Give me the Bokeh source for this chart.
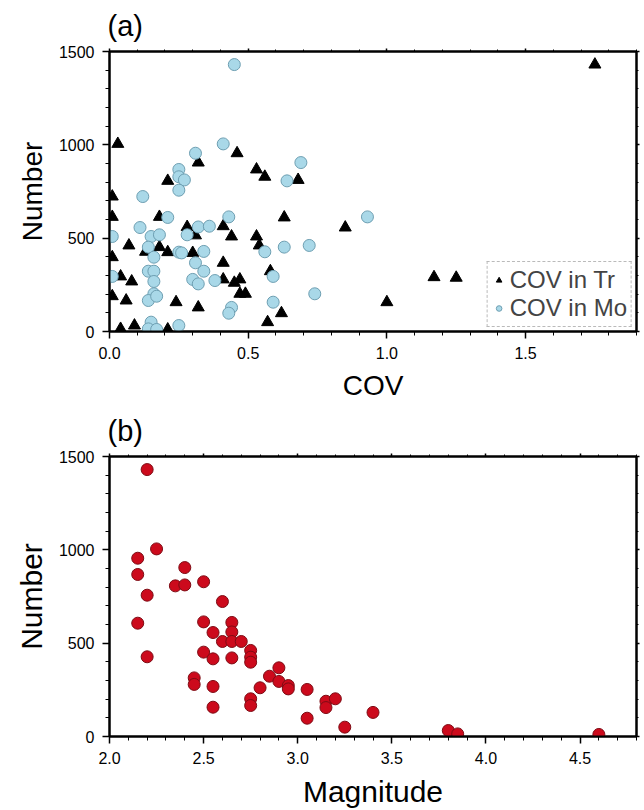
from bokeh.plotting import figure
from bokeh.models import (LinearAxis, SingleIntervalTicker, NumeralTickFormatter,
                          CustomJSTickFormatter, Range1d)
from bokeh.layouts import column
from bokeh.embed import file_html
from bokeh.resources import INLINE

# ---------------- data ----------------
# panel (a): COV in Tr (triangles)
tr_cov = [0.03, 0.46, 0.32, 0.53, 0.56, 0.21, 0.68, 0.01, 0.01, 0.18,
          0.28, 0.41, 0.44, 0.53, 0.54, 0.31, 0.07, 0.13, 0.18, 0.21,
          0.30, 0.01, 0.41, 0.04, 0.08, 0.41, 0.45, 0.47, 0.47, 0.49,
          0.01, 0.06, 0.24, 0.32, 0.57, 0.04, 0.09, 0.21, 0.63, 0.85,
          0.58, 0.62, 1.00, 1.17, 1.25, 1.75]
tr_num = [1005, 955, 905, 868, 829, 807, 812, 723, 614, 614,
          560, 564, 509, 509, 461, 515, 461, 427, 452, 425,
          421, 398, 368, 295, 268, 279, 261, 279, 202, 202,
          189, 166, 157, 129, 50, 14, 32, 11, 611, 557,
          323, 98, 157, 291, 288, 1430]

# panel (a): COV in Mo (circles)
mo_cov = [0.45, 0.41, 0.31, 0.25, 0.25, 0.27, 0.25, 0.69, 0.64, 0.12,
          0.21, 0.11, 0.32, 0.36, 0.43, 0.56, 0.01, 0.15, 0.18, 0.28,
          0.14, 0.16, 0.25, 0.26, 0.34, 0.31, 0.14, 0.16, 0.34, 0.01,
          0.16, 0.30, 0.32, 0.38, 0.16, 0.14, 0.17, 0.44, 0.43, 0.15,
          0.14, 0.17, 0.25, 0.93, 0.63, 0.72, 0.59, 0.74, 0.59]
mo_num = [1430, 1005, 955, 868, 829, 812, 757, 905, 807, 723,
          611, 557, 560, 564, 614, 427, 509, 509, 518, 518,
          452, 398, 425, 421, 429, 368, 323, 323, 323, 295,
          268, 279, 255, 273, 202, 166, 189, 129, 98, 50,
          14, 11, 32, 614, 452, 461, 295, 202, 157]

# panel (b): Magnitude vs Number
mag = [2.2, 2.25, 2.15, 2.15, 2.4, 2.35, 2.4, 2.5, 2.2, 2.6,
       2.15, 2.5, 2.55, 2.65, 2.65, 2.6, 2.65, 2.7, 2.75, 2.75,
       2.75, 2.2, 2.5, 2.55, 2.65, 2.45, 2.45, 2.55, 2.55, 2.75,
       2.75, 2.8, 2.85, 2.9, 2.9, 2.95, 2.95, 3.05, 3.05, 3.15,
       3.15, 3.2, 3.25, 3.4, 3.8, 3.85, 4.6]
mag_num = [1430, 1005, 955, 868, 905, 807, 812, 829, 757, 723,
           607, 614, 557, 611, 560, 509, 509, 509, 461, 425,
           398, 427, 452, 416, 421, 314, 279, 268, 157, 202,
           166, 261, 323, 368, 295, 273, 255, 252, 98, 189,
           155, 202, 50, 129, 32, 14, 11]

FONT = "Liberation Sans"


def make_fig(height, x0, x1, left, right, top, bottom, title, xlabel, label_size):
    p = figure(width=644, height=height,
               x_range=Range1d(x0, x1), y_range=Range1d(0, 1500),
               output_backend="svg", toolbar_location=None,
               x_axis_location=None, y_axis_location=None,
               min_border_left=left, min_border_right=right,
               min_border_top=top, min_border_bottom=bottom,
               title=title)
    p.xgrid.visible = False
    p.ygrid.visible = False
    p.outline_line_color = "black"
    p.outline_line_width = 2
    p.title.text_font = FONT
    p.title.text_font_size = "29px"
    p.title.text_font_style = "normal"
    p.title.text_color = "black"
    p.title.align = "left"
    p.title.offset = -2
    p.title.standoff = 13

    bottom_ax = LinearAxis(ticker=SingleIntervalTicker(interval=0.5, num_minor_ticks=5),
                           formatter=NumeralTickFormatter(format="0.0"),
                           axis_label=xlabel)
    left_ax = LinearAxis(ticker=SingleIntervalTicker(interval=500, num_minor_ticks=5),
                         axis_label="Number")
    top_ax = LinearAxis(ticker=SingleIntervalTicker(interval=0.5, num_minor_ticks=5),
                        formatter=CustomJSTickFormatter(code="return ''"))
    right_ax = LinearAxis(ticker=SingleIntervalTicker(interval=500, num_minor_ticks=5),
                          formatter=CustomJSTickFormatter(code="return ''"))
    p.add_layout(bottom_ax, "below")
    p.add_layout(left_ax, "left")
    p.add_layout(top_ax, "above")
    p.add_layout(right_ax, "right")

    for ax in [bottom_ax, left_ax, top_ax, right_ax]:
        ax.axis_line_width = 2
        ax.axis_line_color = "black"
        ax.major_tick_line_color = "black"
        ax.minor_tick_line_color = "black"
        ax.major_tick_line_width = 1.5
        ax.minor_tick_line_width = 1
        ax.major_tick_in = 0
        ax.minor_tick_in = 0
        ax.major_tick_out = 7
        ax.minor_tick_out = 4
        ax.major_label_text_font = FONT
        ax.major_label_text_font_size = "16px"
        ax.major_label_text_color = "black"
        ax.axis_label_text_font = FONT
        ax.axis_label_text_font_size = label_size
        ax.axis_label_text_font_style = "normal"
        ax.axis_label_text_color = "black"
    for ax in [top_ax, right_ax]:
        ax.major_label_standoff = 0
        ax.major_tick_out = 3
        ax.minor_tick_out = 2
    bottom_ax.major_label_standoff = 8
    left_ax.major_label_standoff = 8
    bottom_ax.axis_label_standoff = 8
    left_ax.axis_label_standoff = 8
    return p


# ---------------- panel (a) ----------------
pa = make_fig(403, 0.0, 1.9, 106, 0, 51, 72, "(a)", "COV", "28px")
pa.scatter(tr_cov, tr_num, marker="triangle", size=12,
           fill_color="black", line_color="black", legend_label="COV in Tr")
pa.scatter(mo_cov, mo_num, marker="circle", size=12,
           fill_color="#a9d8e8", line_color="#6e9fb2", line_width=1,
           legend_label="COV in Mo")
lg = pa.legend[0]
lg.location = "bottom_right"
lg.margin = 4
lg.padding = 4
lg.spacing = 0
lg.label_text_font = FONT
lg.label_text_font_size = "24px"
lg.label_standoff = 4
lg.glyph_width = 14
lg.glyph_height = 20
lg.label_height = 20
lg.border_line_color = "#777777"
lg.border_line_dash = "2 2"
lg.border_line_width = 1
lg.background_fill_alpha = 1

# ---------------- panel (b) ----------------
pb = make_fig(407, 2.0, 4.8, 109, 8, 53, 74, "(b)", "Magnitude", "30px")
pb.scatter(mag, mag_num, marker="circle", size=12,
           fill_color="#cc0a1c", line_color="#7e0b14", line_width=1)

layout = column(pa, pb, spacing=0)
open("out.html", "w").write(file_html(layout, INLINE))
